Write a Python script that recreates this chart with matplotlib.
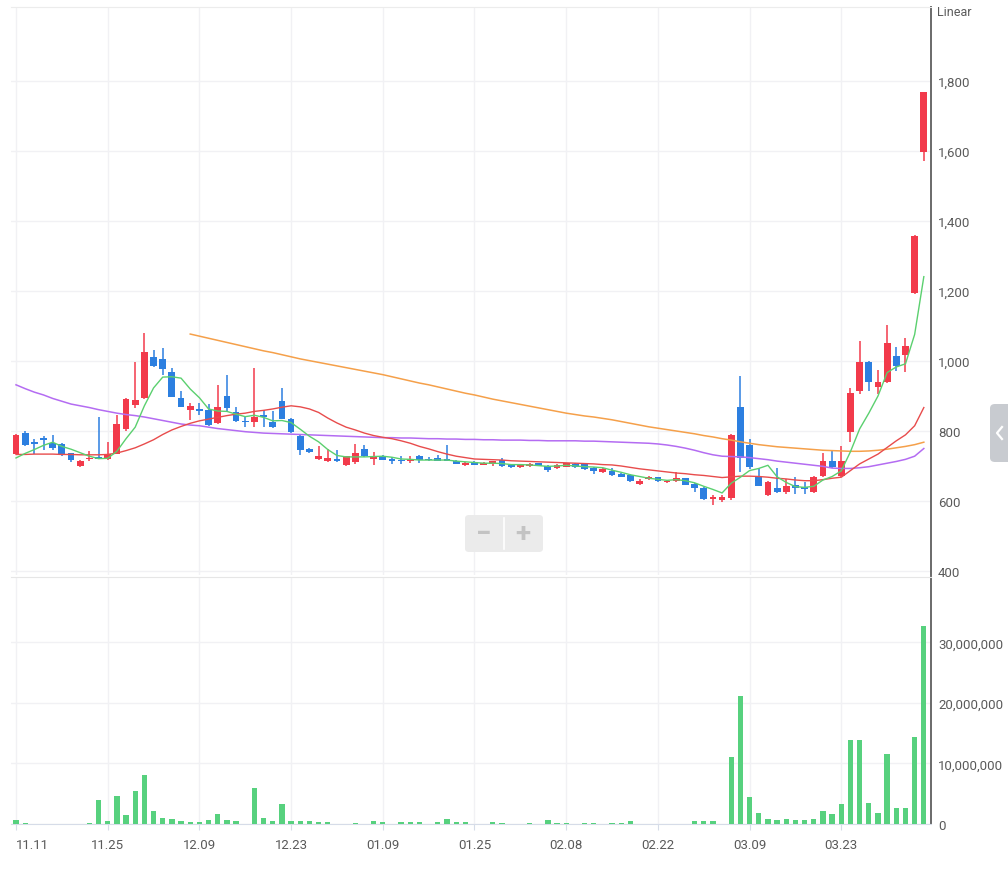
import matplotlib
matplotlib.use("Agg")
import matplotlib.pyplot as plt
from matplotlib.patches import FancyBboxPatch
from matplotlib.lines import Line2D
import numpy as np

plt.rcParams["font.family"] = ["Roboto", "DejaVu Sans"]

# date labels, one every 10 candles
tick_labels = ["11.11", "11.25", "12.09", "12.23", "01.09",
               "01.25", "02.08", "02.22", "03.09", "03.23"]

opens = [735, 794, 768, 780, 765, 763, 736, 699, 720, 725,
         720, 734, 806, 873, 894, 1012, 1006, 970, 894, 860,
         864, 860, 822, 901, 853, 829, 825, 845, 827, 887,
         834, 787, 749, 720, 713, 720, 703, 711, 749, 720,
         730, 720, 718, 713, 730, 720, 723, 720, 715, 703,
         711, 703, 705, 718, 703, 696, 699, 709, 701, 694,
         698, 706, 706, 694, 682, 687, 677, 674, 649, 663,
         668, 653, 656, 665, 649, 637, 606, 604, 610, 870,
         760, 670, 617, 637, 627, 647, 639, 627, 671, 715,
         672, 797, 915, 998, 925, 941, 1015, 1017, 1195, 1598]
highs = [792, 799, 777, 787, 790, 765, 738, 716, 744, 841,
         768, 845, 893, 998, 1080, 1031, 1037, 980, 913, 880,
         880, 878, 931, 960, 870, 842, 980, 860, 857, 922,
         836, 790, 751, 756, 750, 746, 730, 763, 760, 740,
         732, 726, 728, 728, 731, 725, 731, 760, 716, 712,
         714, 711, 715, 722, 705, 704, 708, 710, 703, 705,
         710, 708, 708, 696, 694, 694, 680, 676, 663, 671,
         670, 659, 684, 667, 651, 639, 617, 617, 792, 956,
         777, 695, 657, 693, 663, 668, 655, 672, 737, 747,
         756, 922, 1058, 1000, 975, 1103, 1039, 1067, 1360, 1770]
lows = [733, 758, 735, 746, 745, 729, 712, 698, 715, 719,
        718, 733, 800, 867, 892, 983, 961, 896, 868, 831,
        845, 815, 820, 856, 825, 811, 811, 811, 810, 833,
        795, 731, 737, 716, 712, 712, 701, 705, 726, 703,
        716, 707, 706, 708, 709, 713, 713, 713, 705, 700,
        702, 702, 700, 698, 694, 694, 697, 700, 683, 692,
        696, 695, 690, 677, 680, 672, 668, 655, 647, 661,
        655, 651, 654, 645, 625, 604, 589, 597, 602, 683,
        692, 642, 615, 623, 620, 619, 621, 623, 669, 695,
        670, 768, 906, 915, 906, 938, 971, 969, 1192, 1572]
closes = [790, 760, 764, 775, 752, 731, 717, 715, 723, 720,
          734, 820, 891, 890, 1027, 985, 977, 898, 870, 872,
          857, 818, 869, 865, 829, 825, 839, 839, 811, 834,
          796, 747, 739, 730, 722, 713, 728, 737, 728, 727,
          718, 714, 715, 720, 718, 717, 715, 714, 706, 710,
          703, 709, 713, 699, 696, 702, 706, 701, 690, 703,
          708, 697, 691, 686, 691, 674, 670, 656, 658, 668,
          656, 656, 666, 646, 637, 606, 612, 612, 790, 722,
          697, 644, 655, 625, 644, 637, 635, 668, 715, 697,
          715, 908, 996, 939, 941, 1051, 986, 1043, 1358, 1768]
# volume in millions of shares
volumes_m = [0.66, 0.2, 0.01, 0.01, 0.01, 0.01, 0.01, 0.01, 0.2, 3.9,
             0.5, 4.6, 1.5, 5.4, 8.1, 2.1, 1.0, 0.8, 0.45, 0.25,
             0.25, 0.66, 1.65, 0.66, 0.45, 0.01, 6.0, 1.05, 0.45, 3.3,
             0.45, 0.45, 0.5, 0.25, 0.25, 0.01, 0.01, 0.2, 0.01, 0.45,
             0.25, 0.01, 0.25, 0.25, 0.25, 0.01, 0.25, 0.8, 0.25, 0.25,
             0.01, 0.01, 0.25, 0.16, 0.01, 0.01, 0.16, 0.01, 0.65, 0.16,
             0.16, 0.01, 0.16, 0.16, 0.01, 0.16, 0.16, 0.45, 0.01, 0.01,
             0.01, 0.01, 0.01, 0.01, 0.45, 0.45, 0.45, 0.01, 11.1, 21.1,
             4.5, 1.8, 0.82, 0.6, 0.82, 0.6, 0.6, 0.82, 2.1, 1.6,
             3.3, 13.9, 13.9, 3.4, 1.8, 11.6, 2.6, 2.6, 14.4, 32.7]

ma5 = [723, 736, 747, 759, 768, 756, 748, 738, 728, 721,
       722, 742, 778, 811, 872, 923, 954, 955, 951, 920,
       895, 863, 857, 856, 848, 841, 845, 839, 829, 830,
       824, 805, 785, 769, 747, 730, 726, 726, 726, 727,
       728, 725, 720, 719, 717, 717, 717, 717, 714, 712,
       710, 708, 708, 707, 704, 704, 703, 701, 699, 700,
       702, 700, 698, 697, 695, 688, 682, 675, 670, 665,
       662, 659, 661, 658, 652, 642, 633, 623, 651, 668,
       687, 693, 702, 669, 653, 641, 639, 642, 660, 670,
       686, 741, 806, 851, 900, 967, 983, 992, 1076, 1241]
ma20 = [733, 733, 734, 734, 734, 733, 733, 732, 732, 732,
        733, 737, 744, 752, 763, 775, 790, 803, 813, 822,
        829, 834, 839, 844, 848, 851, 856, 859, 863, 868,
        872, 869, 863, 853, 837, 823, 811, 803, 794, 787,
        782, 778, 772, 765, 756, 749, 741, 734, 728, 724,
        720, 719, 718, 717, 715, 714, 713, 712, 711, 710,
        709, 708, 707, 706, 704, 703, 700, 696, 692, 689,
        686, 683, 680, 678, 675, 673, 670, 667, 669, 671,
        671, 670, 668, 665, 663, 660, 658, 658, 661, 665,
        668, 687, 706, 720, 734, 753, 772, 789, 815, 867]
ma60 = [932, 921, 911, 903, 893, 885, 877, 872, 867, 861,
        856, 851, 847, 844, 840, 835, 830, 825, 820, 817,
        815, 811, 807, 804, 801, 798, 796, 794, 793, 792,
        791, 790, 789, 788, 787, 786, 785, 784, 783, 782,
        781, 781, 780, 780, 779, 778, 778, 777, 777, 776,
        776, 775, 775, 774, 774, 774, 773, 773, 772, 772,
        772, 772, 771, 771, 770, 769, 768, 767, 766, 765,
        763, 760, 756, 751, 745, 738, 732, 728, 727, 726,
        724, 721, 718, 714, 711, 708, 705, 702, 699, 694,
        693, 693, 695, 698, 703, 708, 713, 719, 728, 750]
ma120 = [None] * 19 + [
    1077, 1071, 1065, 1059, 1053, 1047, 1041, 1035, 1029, 1024, 1018,
    1012, 1006, 1001, 996, 991, 986, 981, 976, 971, 966,
    961, 955, 949, 943, 937, 932, 926, 920, 914, 908,
    903, 897, 891, 886, 881, 876, 871, 866, 861, 856,
    851, 847, 843, 840, 836, 832, 827, 822, 817, 812,
    808, 804, 800, 796, 792, 787, 783, 778, 774, 769,
    765, 761, 758, 755, 753, 751, 749, 747, 745, 744,
    743, 742, 742, 743, 745, 748, 752, 756, 761, 768]

UP = "#f23a4b"
DOWN = "#2c7fe0"
TXT = "#5a5a5a"
GRID = "#f1f1f4"

n = len(closes)
x = np.arange(n)
o = np.array(opens, float)
c = np.array(closes, float)
h = np.array(highs, float)
l = np.array(lows, float)
cols = [UP if cc >= oo else DOWN for oo, cc in zip(o, c)]

fig = plt.figure(figsize=(10.08, 8.70), dpi=100)
ax = fig.add_axes([11 / 1008, 1 - 576 / 870, 920 / 1008, 568 / 870])
axv = fig.add_axes([11 / 1008, 45 / 870, 920 / 1008, 247 / 870], sharex=ax)

# candles
ax.vlines(x, l, h, colors=cols, linewidth=1.1, zorder=2)
body_h = np.maximum(np.abs(c - o), 3)
ax.bar(x, body_h, 0.74, bottom=np.minimum(o, c), color=cols,
       linewidth=0, zorder=3)

# moving averages
ax.plot(x, ma120, color="#f5a04a", lw=1.1, zorder=4)
ax.plot(x, ma60, color="#b46cf2", lw=1.1, zorder=4)
ax.plot(x, ma20, color="#e84c4c", lw=1.0, zorder=4)
ax.plot(x, ma5, color="#5bd06f", lw=1.0, zorder=4)

# volume
axv.bar(x, np.array(volumes_m) * 1e6, 0.58, color="#57d17e", linewidth=0,
        zorder=3)

xlo, xhi = (11 - 16) / 9.17, (931 - 16) / 9.17
ax.set_xlim(xlo, xhi)
ax.set_ylim(400 - 4 / 0.35, 400 - 4 / 0.35 + 568 / 0.35)
axv.set_ylim(0, 247 * 165289)

ticks = np.arange(0, n, 10)
for a in (ax, axv):
    a.set_xticks(ticks)
    a.yaxis.tick_right()
    a.grid(True, color=GRID, linewidth=1.0, zorder=0)
    a.spines["left"].set_visible(False)
    a.spines["right"].set_color("#6a6a6a")
    a.spines["right"].set_linewidth(1.4)
    a.tick_params(axis="y", length=0, pad=5, labelsize=9.5, labelcolor=TXT)

ax.spines["top"].set_color("#ececec")
ax.spines["bottom"].set_visible(False)
ax.tick_params(axis="x", length=0, labelbottom=False)
price_ticks = list(range(400, 1801, 200))
ax.set_yticks(price_ticks)
ax.set_yticklabels([f"{v:,}" for v in price_ticks])

axv.spines["top"].set_color("#e6e6e6")
axv.spines["bottom"].set_color("#d6dce8")
vol_ticks = [0, 10_000_000, 20_000_000, 30_000_000]
axv.set_yticks(vol_ticks)
axv.set_yticklabels([f"{v:,}" for v in vol_ticks])
axv.set_xticklabels(tick_labels)
axv.tick_params(axis="x", length=4, color="#d6dce8", pad=6,
                labelsize=9.5, labelcolor=TXT)
axv.get_xticklabels()[0].set_horizontalalignment("left")

fig.text(937 / 1008, 1 - 12 / 870, "Linear", fontsize=9, color=TXT,
         ha="left", va="center")

# zoom control
fig.patches.append(FancyBboxPatch((465 / 1008, 1 - 553 / 870), 78 / 1008,
                                  37 / 870, boxstyle="round,pad=0,rounding_size=0.004",
                                  transform=fig.transFigure, fc="#ebebeb",
                                  ec="none", zorder=5))
fig.lines.append(Line2D([504 / 1008, 504 / 1008], [1 - 550 / 870, 1 - 519 / 870],
                        transform=fig.transFigure, color="white", lw=1.2, zorder=6))
fig.text(484 / 1008, 1 - 535 / 870, "\u2212", fontsize=20, color="#c3c3c3",
         weight="bold", ha="center", va="center", zorder=7)
fig.text(523 / 1008, 1 - 535 / 870, "+", fontsize=20, color="#c3c3c3",
         weight="bold", ha="center", va="center", zorder=7)

# side tab with chevron
fig.patches.append(FancyBboxPatch((990 / 1008, 1 - 463 / 870), 24 / 1008,
                                  58 / 870, boxstyle="round,pad=0,rounding_size=0.005",
                                  transform=fig.transFigure, fc="#c8cbd0",
                                  ec="none", zorder=5))
fig.lines.append(Line2D([1002 / 1008, 997 / 1008, 1002 / 1008],
                        [1 - 428 / 870, 1 - 434 / 870, 1 - 440 / 870],
                        transform=fig.transFigure, color="white", lw=1.6,
                        zorder=7))

fig.savefig("out.png", dpi=100)
